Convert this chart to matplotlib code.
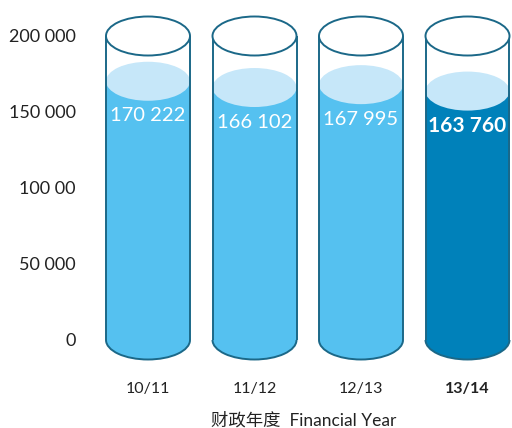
import matplotlib
matplotlib.use("Agg")
import matplotlib.pyplot as plt
from matplotlib.patches import Ellipse, Rectangle, Arc

categories = ["10/11", "11/12", "12/13", "13/14"]
values = [170222, 166102, 167995, 163760]
value_labels = ["170 222", "166 102", "167 995", "163 760"]
highlight = [False, False, False, True]
ytick_values = [0, 50000, 100000, 150000, 200000]
ytick_labels = ["0", "50 000", "100 00", "150 000", "200 000"]
cyl_max = 200000
xlabel_text = "财政年度  Financial Year"

plt.rcParams['font.family'] = ['Lato', 'Noto Sans CJK SC', 'DejaVu Sans']

W, H = 512, 428
fig = plt.figure(figsize=(W / 100, H / 100), dpi=100)
ax = fig.add_axes([95 / W, (H - 370) / H, (W - 95) / W, (370 - 5) / H])

px = 200000 / 304.0
ax.set_xlim(-(148 - 95) / 106.5, (512 - 148) / 106.5)
ax.set_ylim(-30 * px, 200000 + 31 * px)

light = "#55C1F0"
top_light = "#C6E7F9"
dark = "#0081BA"
outline = "#1B6888"
cw = 84 / 106.5
eh = 39 * px

for i, (v, hl) in enumerate(zip(values, highlight)):
    fc = dark if hl else light
    ax.add_patch(Rectangle((i - cw / 2, 0), cw, v, facecolor=fc, edgecolor="none", zorder=2))
    ax.add_patch(Ellipse((i, 0), cw, eh, facecolor=fc, edgecolor="none", zorder=2))
    ax.add_patch(Ellipse((i, v), cw, eh, facecolor=top_light, edgecolor="none", zorder=3))
    # outlines
    ax.plot([i - cw / 2, i - cw / 2], [0, cyl_max], color=outline, lw=1.4, zorder=4, solid_capstyle="butt")
    ax.plot([i + cw / 2, i + cw / 2], [0, cyl_max], color=outline, lw=1.4, zorder=4, solid_capstyle="butt")
    ax.add_patch(Arc((i, 0), cw, eh, theta1=180, theta2=360, color=outline, lw=1.4, zorder=4))
    ax.add_patch(Ellipse((i, cyl_max), cw, eh, facecolor="white", edgecolor=outline, lw=1.4, zorder=4))
    ax.annotate(value_labels[i], (i, v), xytext=(0, -25), textcoords="offset points",
                ha="center", va="center", color="white",
                fontsize=15 if hl else 14.5, fontweight="bold" if hl else "normal", zorder=5)

ax.set_yticks(ytick_values)
ax.set_yticklabels(ytick_labels, fontsize=13, color="#222222")
ax.set_xticks(range(len(categories)))
ax.set_xticklabels(categories, fontsize=11.5, color="#222222")
for lab, hl in zip(ax.get_xticklabels(), highlight):
    if hl:
        lab.set_fontweight("bold")
ax.tick_params(axis="y", length=0, pad=14)
ax.tick_params(axis="x", length=0, pad=9)
ax.set_xlabel(xlabel_text, fontsize=12.5, color="#222222", labelpad=11.5)
for s in ax.spines.values():
    s.set_visible(False)

fig.savefig("out.png", dpi=100)
